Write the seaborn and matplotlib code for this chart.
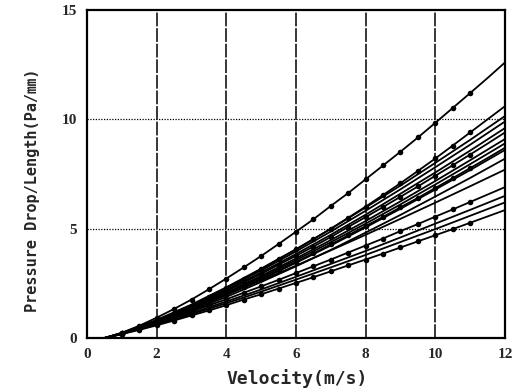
import numpy as np
import pandas as pd
import matplotlib
matplotlib.use("Agg")
import matplotlib.pyplot as plt
import seaborn as sns

# velocity grids (m/s)
v_half = [0.5, 1.0, 1.5, 2.0, 2.5, 3.0, 3.5, 4.0, 4.5, 5.0, 5.5, 6.0,
          6.5, 7.0, 7.5, 8.0, 8.5, 9.0, 9.5, 10.0, 10.5, 11.0, 11.5, 12.0]
v_int = [0.5, 1, 2, 3, 4, 5, 6, 7, 8, 9, 10, 11, 12]

# series with measured markers (pressure drop per length, Pa/mm)
s01 = [0, 0.24, 0.56, 0.93, 1.33, 1.76, 2.23, 2.72, 3.23, 3.75, 4.30, 4.86,
       5.43, 6.04, 6.63, 7.26, 7.89, 8.52, 9.17, 9.84, 10.52, 11.20, 11.89, 12.6]
s02 = [0, 0.20, 0.47, 0.78, 1.12, 1.48, 1.88, 2.29, 2.71, 3.16, 3.61, 4.05,
       4.52, 5.00, 5.50, 6.01, 6.54, 7.08, 7.64, 8.21, 8.80, 9.40, 10.00, 10.6]
s06 = [0, 0.21, 0.47, 0.76, 1.08, 1.42, 1.78, 2.15, 2.54, 2.93, 3.35, 3.76,
       4.18, 4.62, 5.08, 5.53, 5.99, 6.46, 6.93, 7.42, 7.90, 8.39, 8.89, 9.4]
s09 = [0, 0.19, 0.44, 0.71, 1.00, 1.31, 1.64, 1.99, 2.35, 2.71, 3.10, 3.48,
       3.87, 4.28, 4.70, 5.12, 5.54, 5.98, 6.41, 6.86, 7.31, 7.77, 8.23, 8.7]
s13 = [0, 0.21, 0.44, 0.69, 0.95, 1.21, 1.49, 1.77, 2.07, 2.36, 2.66, 2.97,
       3.28, 3.59, 3.91, 4.23, 4.55, 4.89, 5.21, 5.55, 5.88, 6.22, 6.56, 6.9]
s16 = [0, 0.18, 0.37, 0.58, 0.80, 1.03, 1.26, 1.50, 1.76, 2.00, 2.26, 2.52,
       2.78, 3.05, 3.32, 3.59, 3.86, 4.14, 4.42, 4.70, 4.98, 5.27, 5.56, 5.85]

# series drawn as lines only
s03 = [0, 0.23, 0.83, 1.53, 2.32, 3.17, 4.06, 4.99, 5.97, 6.97, 8.01, 9.06, 10.15]
s04 = [0, 0.22, 0.80, 1.49, 2.27, 3.09, 3.96, 4.87, 5.82, 6.80, 7.81, 8.84, 9.9]
s05 = [0, 0.21, 0.78, 1.45, 2.20, 3.00, 3.84, 4.72, 5.64, 6.60, 7.57, 8.57, 9.6]
s07 = [0, 0.20, 0.74, 1.37, 2.08, 2.84, 3.64, 4.48, 5.35, 6.25, 7.18, 8.13, 9.1]
s08 = [0, 0.20, 0.72, 1.34, 2.04, 2.78, 3.56, 4.38, 5.23, 6.11, 7.02, 7.95, 8.9]
s10 = [0, 0.19, 0.70, 1.30, 1.97, 2.68, 3.44, 4.23, 5.06, 5.91, 6.79, 7.68, 8.6]
s11 = [0, 0.18, 0.67, 1.24, 1.88, 2.56, 3.28, 4.03, 4.82, 5.63, 6.47, 7.32, 8.2]
s12 = [0, 0.23, 0.77, 1.36, 1.98, 2.63, 3.31, 4.01, 4.72, 5.45, 6.19, 6.94, 7.7]
s14 = [0, 0.20, 0.65, 1.14, 1.67, 2.22, 2.80, 3.39, 3.98, 4.60, 5.23, 5.86, 6.5]
s15 = [0, 0.19, 0.62, 1.09, 1.59, 2.12, 2.67, 3.23, 3.80, 4.39, 4.98, 5.59, 6.2]

marked = [s01, s02, s06, s09, s13, s16]
plain = [s03, s04, s05, s07, s08, s10, s11, s12, s14, s15]

x_ticks = [0, 2, 4, 6, 8, 10, 12]
y_ticks = [0, 5, 10, 15]
x_label = "Velocity(m/s)"
y_label = "Pressure Drop/Length(Pa/㎜)"

rows = []
for i, s in enumerate(marked):
    for v, p in zip(v_half, s):
        rows.append(dict(series=f"m{i}", v=v, p=p, mark=True))
for i, s in enumerate(plain):
    for v, p in zip(v_int, s):
        rows.append(dict(series=f"p{i}", v=v, p=p, mark=False))
df = pd.DataFrame(rows)

sns.set_style("white")
plt.rcParams['font.family'] = ['DejaVu Sans Mono', 'Noto Sans CJK JP']

fig = plt.figure(figsize=(5.22, 3.90), dpi=100)
ax = fig.add_axes([0.1667, 0.1333, 0.8007, 0.8411])

sns.lineplot(data=df, x="v", y="p", units="series", estimator=None,
             color="black", linewidth=1.3, ax=ax, legend=False)
mk = df[(df["mark"]) & (df["v"] >= 1.0) & (df["v"] <= 11.0)]
sns.scatterplot(data=mk, x="v", y="p", color="black", s=16,
                edgecolor="black", linewidth=0, ax=ax, legend=False, zorder=3)

for xv in x_ticks[1:-1]:
    ax.axvline(xv, color="black", linewidth=1.1, linestyle=(0, (9, 1.2)), zorder=0)
for yv in y_ticks[1:-1]:
    ax.axhline(yv, color="black", linewidth=0.9, linestyle=(0, (1, 1.2)), zorder=0)

ax.set_xlim(0, 12)
ax.set_ylim(0, 15)
ax.set_xticks(x_ticks)
ax.set_yticks(y_ticks)
ax.set_xticklabels([str(t) for t in x_ticks], fontfamily="Liberation Serif",
                   fontweight="bold", fontsize=11)
ax.set_yticklabels([str(t) for t in y_ticks], fontfamily="Liberation Serif",
                   fontweight="bold", fontsize=11)
ax.tick_params(axis="both", length=0, pad=7)
ax.set_xlabel(x_label, fontsize=13, fontweight="bold")
ax.xaxis.set_label_coords(0.502, -0.095)
ax.set_ylabel(y_label, fontsize=11, fontweight="bold")
ax.yaxis.set_label_coords(-0.112, 0.45)
for sp in ax.spines.values():
    sp.set_color("black")
    sp.set_linewidth(1.6)
    sp.set_visible(True)

fig.savefig("out.png", dpi=100)
